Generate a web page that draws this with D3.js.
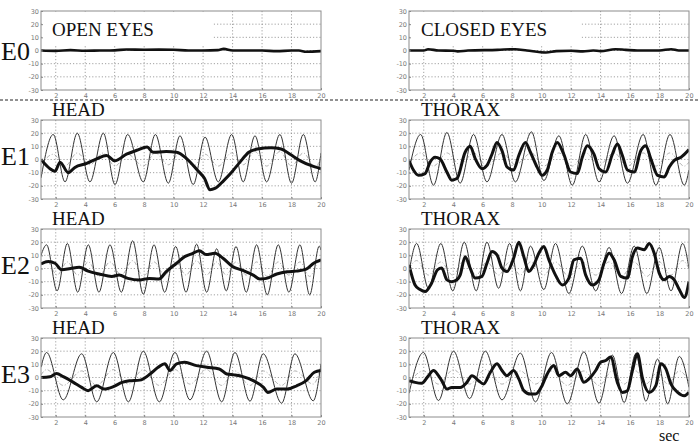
<!DOCTYPE html>
<html><head><meta charset="utf-8">
<script src="https://cdn.jsdelivr.net/npm/d3@7/dist/d3.min.js"></script>
<style>body{margin:0;background:#fff}svg{display:block}</style>
</head><body><svg id="c" width="700" height="444"></svg>
<script>
// ---------- DATA ----------
const rowLabels = ["E0", "E1", "E2", "E3"];
const colTitles = [["OPEN EYES", "CLOSED EYES"], ["HEAD", "THORAX"], ["HEAD", "THORAX"], ["HEAD", "THORAX"]];
const xTicks = [2, 4, 6, 8, 10, 12, 14, 16, 18, 20];
const yTicks = [30, 20, 10, 0, -10, -20, -30];
const xUnit = "sec";

// E0 (no stimulus) thick traces
const e0OpenThick = [[1,0],[2,-0.3],[3,0.3],[4,-0.2],[5,0],[6,0.1],[6.8,0.8],[8,0.6],[9,0.7],[10,0.6],[11,0],[12,0],[13,0.3],[13.4,1.2],[14,0],[16,0],[17,-0.5],[18,0],[18.5,0],[19,-1],[20,-0.5]];
const e0ClosedThick = [[1,0],[2,0],[2.3,1],[3,0],[4,-0.2],[4.3,-0.7],[5,0],[7,0.5],[8.2,1],[9,0],[10.3,-1.5],[11,-0.5],[12,-0.2],[12.8,-0.7],[13.5,0],[14,-0.5],[15,1],[15.7,0.5],[16.5,0],[18,0],[18.8,1],[19.3,0],[20,0]];

// E1 HEAD
const e1HeadThin = [[1,-14],[1.83,19],[2.63,-17],[3.46,20],[4.32,-17],[5.23,20],[6.02,-19],[6.88,19],[7.94,-17],[8.76,19],[9.64,-18],[10.43,18],[11.33,-19],[12.13,17],[13.03,-17],[13.94,19],[14.72,-17],[15.52,18],[16.31,-17],[17.21,19],[18.0,-18],[18.8,19],[19.6,-17],[20,5]];
const e1HeadThick = [[1,0],[1.61,-7],[1.95,-9],[2.29,-2],[2.85,-10],[3.3,-6],[4.1,-3],[4.77,0.5],[5.45,3],[6.0,-1],[6.8,4],[7.5,7],[8.2,9.5],[8.6,5.5],[9.5,6],[10.2,5.5],[10.9,0.5],[11.6,-8],[12.1,-14.5],[12.47,-23],[12.8,-22],[13.4,-16],[13.95,-9.5],[14.5,-2],[15.1,5.5],[15.7,8],[16.6,9],[17.3,8],[17.9,4],[18.6,-1],[19.3,-4.5],[20,-7]];
const e1HeadDash = [[1,-4],[1.83,4],[2.63,-5],[3.46,5],[4.32,-4],[5.23,5],[6.02,-5],[6.88,4],[7.94,-5],[8.76,5],[9.64,-4],[10.43,5],[11.33,-5],[12.13,4],[13.03,-5],[13.94,5],[14.72,-4],[15.52,6],[16.31,-5],[17.21,6],[18.0,-5],[18.8,5],[19.6,-6],[20,2]];

// E1 THORAX
const e1ThorThin = [[1,-8],[1.79,19],[2.66,-19.5],[3.57,20.5],[4.47,-18],[5.38,19],[6.29,-17],[7.31,19],[8.22,-17],[9.31,21],[10.15,-16],[11.17,18],[12.08,-19.5],[12.99,19],[13.89,-17],[14.92,18],[15.82,-18],[16.89,19],[17.75,-19.5],[18.71,19],[19.68,-19.5],[20,-8]];
const e1ThorThick = [[1,-0.7],[1.3,-8],[1.64,-12],[2.09,-10.7],[2.43,-2],[2.77,1.7],[3.1,0.5],[3.57,-9.5],[3.9,-15.7],[4.25,-14.5],[4.81,5.5],[5.15,10],[5.5,0.5],[5.95,-7],[6.29,-4.5],[6.63,4],[6.97,13],[7.31,6.7],[7.65,-5.7],[8.1,-8],[8.45,3],[8.9,13],[9.24,5.5],[9.7,-6],[10.03,-12],[10.38,-8],[10.72,5.5],[11.06,13],[11.5,4],[11.96,-9.5],[12.42,-10.7],[12.76,1.7],[13.1,10.5],[13.55,4],[13.9,-7],[14.35,-9.5],[14.8,4],[15.14,11.7],[15.48,3],[15.82,-8],[16.28,-9.5],[16.73,6.7],[17.07,10.5],[17.41,0.5],[17.87,-12],[18.32,-13.2],[18.66,-5.7],[19.0,-0.7],[19.46,1.7],[20,7.5]];
const e1ThorDash = [[1,-3],[1.79,5],[2.66,-5],[3.57,5],[4.47,-4],[5.38,5],[6.29,-5],[7.31,5],[8.22,-4],[9.31,5],[10.15,-5],[11.17,5],[12.08,-5],[12.99,5],[13.89,-4],[14.92,5],[15.82,-5],[16.89,5],[17.75,-5],[18.71,5],[19.68,-5],[20,-2]];

// E2 HEAD
const e2HeadThin = [[1,10],[1.38,18],[2.09,-17],[2.79,19],[3.49,-18],[4.21,18],[4.93,-18],[5.68,18],[6.45,-18],[7.22,21],[7.94,-19.5],[8.67,18],[9.39,-18],[10.14,16.7],[10.84,-18],[11.56,18.5],[12.24,-18],[12.92,15],[13.57,-17],[14.23,16.7],[14.93,-18],[15.63,18],[16.35,-20],[17.1,18],[17.82,-18],[18.57,18],[19.23,-20],[19.88,17],[20,14]];
const e2HeadThick = [[1,3.5],[1.5,5.3],[1.95,4],[2.4,-1],[3.0,0],[3.6,1],[4.2,-2],[5.0,-4.3],[5.8,-6],[6.3,-5],[6.9,-7.5],[7.7,-8.7],[8.35,-7.5],[9.0,-8],[9.5,-2.3],[10.2,4],[10.75,9],[11.3,11.5],[11.75,13.5],[12.2,10.6],[12.8,11.5],[13.35,7.8],[14.0,1.5],[14.7,-1.5],[15.4,-5],[15.85,-8],[16.3,-7.5],[17.0,-4.2],[17.7,-2.5],[18.3,-2],[19.0,-0.5],[19.5,4],[20,6.6]];
const e2HeadDash = [[1,3],[1.38,6],[2.09,-5],[2.79,5],[3.49,-5],[4.21,5],[4.93,-6],[5.68,5],[6.45,-5],[7.22,6],[7.94,-6],[8.67,5],[9.39,-5],[10.14,5],[10.84,-5],[11.56,6],[12.24,-5],[12.92,5],[13.57,-5],[14.23,5],[14.93,-5],[15.63,5],[16.35,-6],[17.1,5],[17.82,-5],[18.57,5],[19.23,-6],[19.88,5],[20,4]];

// E2 THORAX
const e2ThorThin = [[1,-3],[1.52,19],[2.32,-15],[3.16,19],[3.97,-17],[4.75,20],[5.56,-17],[6.29,20],[7.08,-15],[7.83,19],[8.56,-17],[9.24,17],[10.15,-16],[10.94,19],[11.85,-19],[12.76,17],[13.67,-17],[14.58,16],[15.42,-19],[16.28,17],[17.14,-19],[17.98,16],[18.78,-17],[19.57,19],[20,0]];
const e2ThorThick = [[1,2.8],[1.41,-12.5],[1.75,-16],[2.09,-17.5],[2.54,-11],[2.93,-1],[3.22,0.3],[3.57,-8.6],[3.9,-10],[4.25,-8.6],[4.47,-5],[4.81,9],[5.15,0.3],[5.49,-7.3],[5.95,-6],[6.29,4],[6.63,13],[6.97,10.4],[7.31,0.3],[7.65,-2.3],[8.1,7.8],[8.45,20],[8.79,9],[9.13,-2.3],[9.47,2.7],[9.81,11.6],[10.15,16.7],[10.49,6.6],[10.94,-5],[11.4,-12.5],[11.85,-7.3],[12.19,6.6],[12.65,7.8],[12.99,-5],[13.44,-12.5],[13.89,-8.6],[14.23,4],[14.58,11.6],[14.92,6.6],[15.37,-6],[15.82,-7.3],[16.16,9],[16.5,15.5],[16.96,14.2],[17.3,19],[17.64,11.6],[17.98,-3.5],[18.32,-8.6],[18.66,-6],[19.0,-8.6],[19.34,-16],[19.68,-22],[20,-10]];
const e2ThorDash = [[1,0],[1.52,6],[2.32,-5],[3.16,5],[3.97,-5],[4.75,6],[5.56,-5],[6.29,5],[7.08,-5],[7.83,5],[8.56,-5],[9.24,5],[10.15,-5],[10.94,5],[11.85,-6],[12.76,5],[13.67,-5],[14.58,5],[15.42,-6],[16.28,5],[17.14,-6],[17.98,5],[18.78,-5],[19.57,6],[20,0]];

// E3 HEAD
const e3HeadThin = [[1,7.8],[1.38,19],[2.51,-17],[3.76,18],[4.78,-18.5],[5.91,19],[6.93,-18.5],[7.94,20],[9.03,-18.5],[10.09,19],[11.11,-17],[12.24,20],[13.26,-18.5],[14.16,19],[15.18,-18],[16.08,18],[17.33,-19.5],[18.23,18],[19.47,-17.7],[20,10.4]];
const e3HeadThick = [[1,0],[1.61,0.6],[2.06,3],[2.51,0.6],[3.2,-3.7],[3.76,-7.5],[4.2,-10],[4.78,-6.3],[5.3,-8.8],[5.91,-7],[6.5,-3.7],[7.0,-2.5],[7.7,-2],[8.4,2.6],[8.95,7.7],[9.4,10.4],[9.75,5.3],[10.2,10.4],[10.75,11.6],[11.55,9],[12.25,7.8],[13.1,6.5],[13.6,2.7],[14.1,2],[14.7,0.7],[15.4,-2.4],[16.1,-7.5],[16.4,-11.3],[17.0,-8.8],[17.7,-8.8],[18.35,-6.3],[19.0,-2.4],[19.55,4],[20,5.3]];
const e3HeadDash = [[1,2],[1.38,6],[2.51,-6],[3.76,5],[4.78,-6],[5.91,6],[6.93,-5],[7.94,6],[9.03,-6],[10.09,6],[11.11,-5],[12.24,6],[13.26,-6],[14.16,5],[15.18,-6],[16.08,5],[17.33,-6],[18.23,5],[19.47,-5],[20,8]];

// E3 THORAX
const e3ThorThin = [[1,-12],[1.98,19],[3.0,-17.5],[4.02,20],[5.11,-16],[6.18,20],[7.31,-17],[8.56,18.5],[9.58,-18.5],[10.67,19],[11.74,-20],[12.87,19.5],[13.89,-19.5],[14.8,17],[15.6,-19],[16.39,18],[17.07,-18],[17.87,14],[18.55,-20],[19.34,16],[20,-7.5]];
const e3ThorThick = [[1,-2.4],[1.41,-3.7],[1.86,-4.4],[2.32,1.4],[2.66,5.3],[3.0,1.4],[3.22,-2.4],[3.57,-8.8],[3.9,-7.5],[4.47,-7.5],[4.93,-3.7],[5.27,1.4],[5.72,-2.4],[6.06,-5],[6.52,4],[6.97,10.4],[7.31,5.3],[7.65,1.4],[8.1,5.3],[8.45,-1.1],[8.79,-10],[9.24,-12.6],[9.58,-12.6],[10.03,-6.2],[10.38,2.7],[10.83,9.1],[11.17,1.4],[11.62,4],[11.96,1.4],[12.42,6.5],[12.87,-3.7],[13.21,-1.1],[13.67,5.3],[14.0,11.6],[14.35,12.9],[14.69,15.5],[15.14,-3.7],[15.48,-11.3],[15.82,-10],[16.16,5.3],[16.5,18],[16.85,-0.8],[17.3,-11.3],[17.75,-6.2],[18.09,10.4],[18.43,6.5],[18.78,-5],[19.23,-11.3],[19.68,-13.9],[20,-11.3]];
const e3ThorDash = [[1,-4],[1.98,5],[3.0,-5],[4.02,6],[5.11,-5],[6.18,6],[7.31,-5],[8.56,5],[9.58,-5],[10.67,5],[11.74,-6],[12.87,5],[13.89,-6],[14.8,5],[15.6,-5],[16.39,5],[17.07,-5],[17.87,4],[18.55,-5],[19.34,5],[20,-3]];

const panels = [
  [{thick: e0OpenThick}, {thick: e0ClosedThick}],
  [{thin: e1HeadThin, thick: e1HeadThick, dash: e1HeadDash}, {thin: e1ThorThin, thick: e1ThorThick, dash: e1ThorDash}],
  [{thin: e2HeadThin, thick: e2HeadThick, dash: e2HeadDash}, {thin: e2ThorThin, thick: e2ThorThick, dash: e2ThorDash}],
  [{thin: e3HeadThin, thick: e3HeadThick, dash: e3HeadDash}, {thin: e3ThorThin, thick: e3ThorThick, dash: e3ThorDash}]
];

// ---------- LAYOUT ----------
const colLeft = [41, 409];
const rowTop = [11, 120, 229, 338];
const PW = 280, PH = 79;
const svg = d3.select("#c");
svg.append("rect").attr("width", 700).attr("height", 444).attr("fill", "#fff");

const serif = "'Liberation Serif','Times New Roman',serif";
const defs = svg.append("defs");

rowLabels.forEach((lab, r) => {
  const top = rowTop[r];
  const labelBase = r === 0 ? top + 49 : top + 45;
  svg.append("text").attr("x", 1).attr("y", labelBase)
    .attr("font-family", serif).attr("font-size", 26).attr("fill", "#111").text(lab);

  [0, 1].forEach(c => {
    const left = colLeft[c];
    const x = d3.scaleLinear().domain([1, 20]).range([left, left + PW]);
    const y = d3.scaleLinear().domain([-30, 30]).range([top + PH, top]);
    const g = svg.append("g");
    const cid = `clip${r}${c}`;
    defs.append("clipPath").attr("id", cid).append("rect")
      .attr("x", left).attr("y", top).attr("width", PW).attr("height", PH);

    // grid
    const grid = g.append("g").attr("stroke", "#8a8a8a").attr("stroke-width", 0.8).attr("stroke-dasharray", "1.2,2");
    grid.selectAll("line.gx").data(xTicks.filter(t => t < 20)).join("line")
      .attr("x1", d => x(d)).attr("x2", d => x(d)).attr("y1", top).attr("y2", top + PH);
    grid.selectAll("line.gy").data(yTicks.filter(t => Math.abs(t) < 30)).join("line")
      .attr("x1", left).attr("x2", left + PW).attr("y1", d => y(d)).attr("y2", d => y(d));

    if (r === 0) {
      // white box behind the annotation text
      g.append("rect").attr("x", x(1) + 1).attr("y", y(29.5))
        .attr("width", x(12.7) - x(1) - 1).attr("height", y(4) - y(29.5)).attr("fill", "#fff");
    }

    const line = d3.line().x(d => x(d[0])).y(d => y(d[1])).curve(d3.curveMonotoneX);
    const lg = g.append("g").attr("clip-path", `url(#${cid})`).attr("fill", "none");
    const p = panels[r][c];
    if (p.dash) lg.append("path").attr("d", line(p.dash)).attr("stroke", "#9a9a9a")
      .attr("stroke-width", 0.8).attr("stroke-dasharray", "4,2,1,2");
    if (p.thin) lg.append("path").attr("d", line(p.thin)).attr("stroke", "#333").attr("stroke-width", 1);
    if (p.thick) lg.append("path").attr("d", line(p.thick)).attr("stroke", "#111")
      .attr("stroke-width", r === 0 ? 2.6 : 3).attr("stroke-linejoin", "round");

    // axes
    const ax = g.append("g").attr("transform", `translate(0,${top + PH})`)
      .call(d3.axisBottom(x).tickValues(xTicks).tickSizeInner(-2).tickSizeOuter(0).tickPadding(3).tickFormat(d => String(d)));
    const ay = g.append("g").attr("transform", `translate(${left},0)`)
      .call(d3.axisLeft(y).tickValues(yTicks).tickSizeInner(-2).tickSizeOuter(0).tickPadding(2).tickFormat(d => String(d)));
    [ax, ay].forEach(a => {
      a.select(".domain").remove();
      a.selectAll("line").attr("stroke", "#888");
      a.selectAll("text").attr("font-family", "'DejaVu Sans',sans-serif").attr("font-size", 6.5).attr("fill", "#777");
    });
    g.append("rect").attr("x", left).attr("y", top).attr("width", PW).attr("height", PH)
      .attr("fill", "none").attr("stroke", "#8c8c8c").attr("stroke-width", 1);

    // title
    const title = colTitles[r][c];
    const tx = left + (c === 0 ? 11 : 12);
    const ty = r === 0 ? top + 25 : top - 4;
    svg.append("text").attr("x", tx).attr("y", ty).attr("font-family", serif)
      .attr("font-size", 19).attr("fill", "#111").text(title);
  });
});

// separator between E0 and stimulated rows
svg.append("line").attr("x1", 0).attr("x2", 700).attr("y1", 100).attr("y2", 100)
  .attr("stroke", "#222").attr("stroke-width", 1).attr("stroke-dasharray", "3,2");

// unit label
svg.append("text").attr("x", 659).attr("y", 440.5).attr("font-family", serif)
  .attr("font-size", 16).attr("fill", "#111").text(xUnit);
</script></body></html>
